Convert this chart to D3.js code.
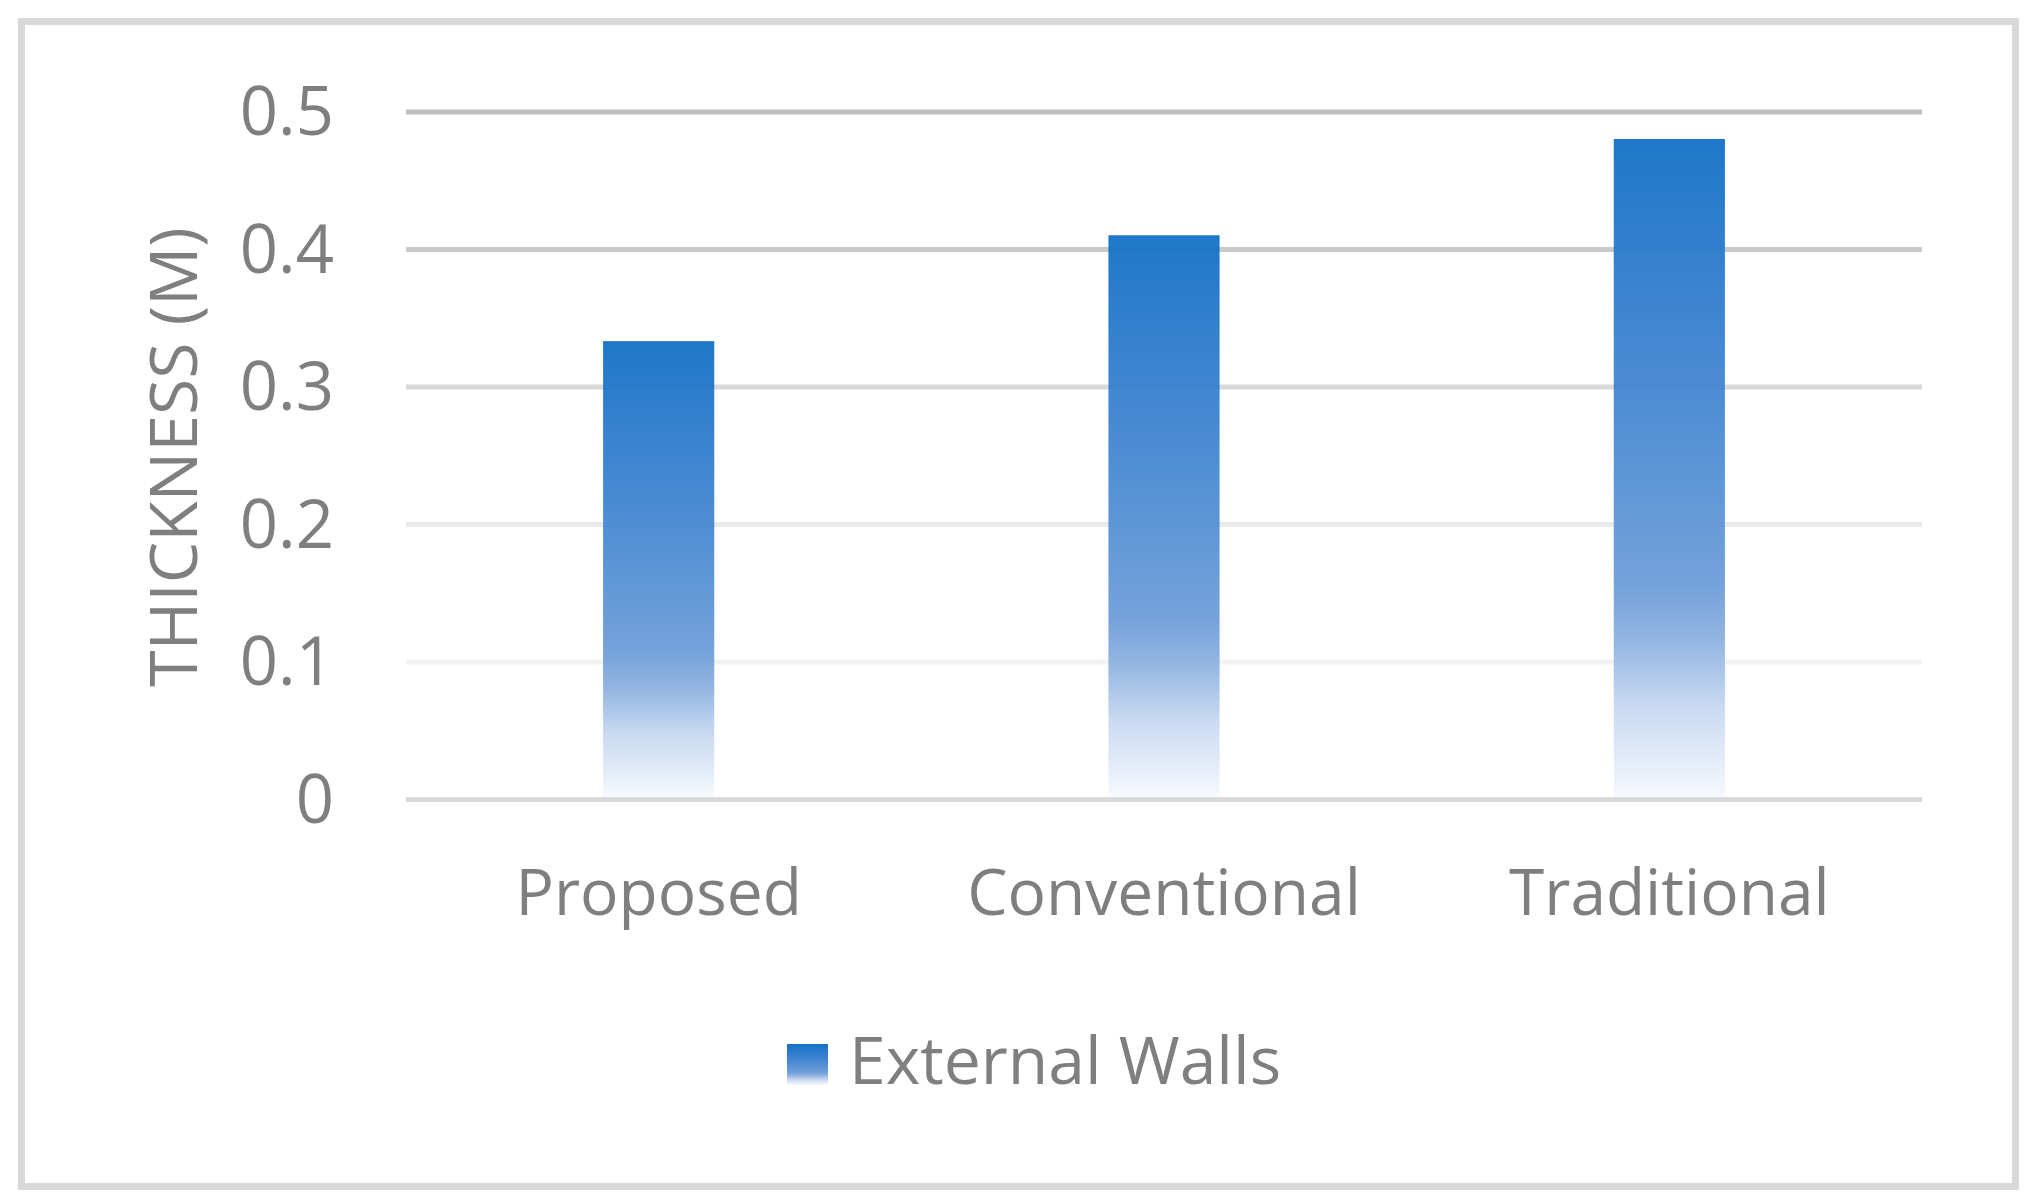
<!DOCTYPE html>
<html>
<head>
<meta charset="utf-8">
<script src="https://cdn.jsdelivr.net/npm/d3@7"></script>
<style>
  html, body { margin: 0; padding: 0; background: #fff; }
  svg { display: block; }
  text { font-family: 'Open Sans', 'Noto Sans', sans-serif; fill: #7f7f7f; }
</style>
</head>
<body>
<svg></svg>
<script>
// chart values
const categories = ['Proposed', 'Conventional', 'Traditional']
const externalWalls = [0.333, 0.41, 0.48]
const yTicks = [0, 0.1, 0.2, 0.3, 0.4, 0.5]
const seriesName = 'External Walls'
const yTitle = 'THICKNESS (M)'

let width = 2034, height = 1202
let margin = { top: 111.5, left: 406, right: 2034 - 1922, bottom: 1202 - 799 }

let svg = d3.select('svg').attr('width', width).attr('height', height)

// blue gradient, fading to white near the bottom
let defs = svg.append('defs')
let grad = defs.append('linearGradient')
	.attr('id', 'barGrad')
	.attr('x1', 0).attr('y1', 0).attr('x2', 0).attr('y2', 1)
;[
	[0, '#1470c6'],
	[0.35, '#3f84d0'],
	[0.68, '#6d9dd9'],
	[0.76, '#8cb0e0'],
	[0.86, '#c4d6f0'],
	[1, '#f5f8fd']
].forEach(s => grad.append('stop').attr('offset', s[0]).attr('stop-color', s[1]))

// outer frame
svg.append('rect')
	.attr('x', 21.5).attr('y', 21.5)
	.attr('width', 2015.5 - 21.5).attr('height', 1186.5 - 21.5)
	.attr('fill', 'none')
	.attr('stroke', '#d9d9d9')
	.attr('stroke-width', 7)

let scX = d3.scaleBand()
	.domain(categories)
	.range([margin.left, width - margin.right])
	.paddingInner(0.78)
	.paddingOuter(0.39)

let scY = d3.scaleLinear()
	.domain([0, 0.5])
	.range([height - margin.bottom, margin.top])

// gridlines, lighter towards the bottom
const gridColors = { 0: '#d9d9d9', 0.1: '#f2f2f2', 0.2: '#e9e9e9', 0.3: '#d9d9d9', 0.4: '#c9c9c9', 0.5: '#bfbfbf' }

let yAxis = d3.axisLeft(scY)
	.tickValues(yTicks)
	.tickSize(-(width - margin.left - margin.right))
	.tickPadding(72)
	.tickFormat(d => d === 0 ? '0' : d3.format('.1f')(d))

let yg = svg.append('g')
	.attr('transform', `translate(${margin.left}, 0)`)
	.call(yAxis)
yg.select('.domain').remove()
yg.selectAll('.tick line')
	.attr('stroke', d => gridColors[d])
	.attr('stroke-width', 5)
yg.selectAll('.tick text')
	.attr('font-size', 67)
	.attr('dy', '0.35em')
	.style('fill', '#7f7f7f')

// bars
svg.append('g')
	.selectAll('rect')
	.data(externalWalls).enter().append('rect')
	.attr('x', (d, i) => scX(categories[i]))
	.attr('y', d => scY(d))
	.attr('width', scX.bandwidth())
	.attr('height', d => scY(0) - scY(d) - 3)
	.attr('fill', 'url(#barGrad)')
	.attr('opacity', 0.95)

// category labels
let xAxis = d3.axisBottom(scX).tickSize(0).tickPadding(71)
let xg = svg.append('g')
	.attr('transform', `translate(0, ${scY(0)})`)
	.call(xAxis)
xg.select('.domain').remove()
xg.selectAll('.tick text')
	.attr('font-size', 64)
	.attr('dy', '0.71em')
	.style('fill', '#7f7f7f')

// y title
svg.append('text')
	.attr('transform', `translate(197, 457) rotate(-90)`)
	.attr('text-anchor', 'middle')
	.attr('font-size', 66)
	.text(yTitle)

// legend
let lg = svg.append('g')
lg.append('rect')
	.attr('x', 787).attr('y', 1044)
	.attr('width', 41).attr('height', 41)
	.attr('fill', 'url(#barGrad)')
lg.append('text')
	.attr('x', 849).attr('y', 1084)
	.attr('font-size', 66)
	.text(seriesName)
</script>
</body>
</html>
